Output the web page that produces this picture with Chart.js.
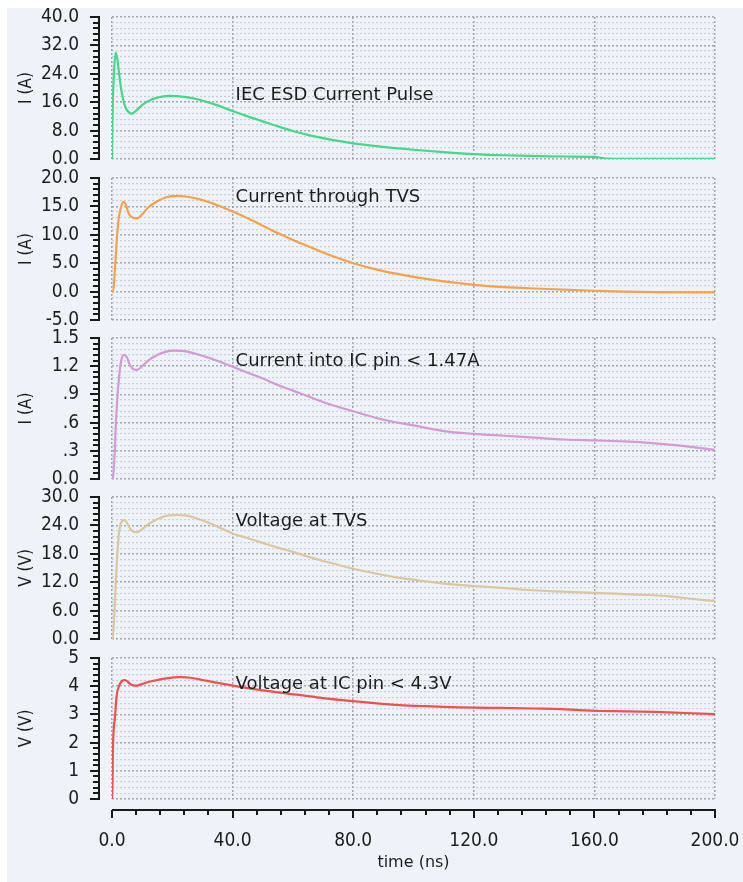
<!DOCTYPE html>
<html><head><meta charset="utf-8">
<script src="https://cdn.jsdelivr.net/npm/chart.js@4.4.1/dist/chart.umd.min.js"></script>
<style>
html,body{margin:0;padding:0;background:#fff;width:743px;height:882px;overflow:hidden;}
#bg{position:absolute;left:7px;top:8px;right:0;bottom:0;background:#eef2f9;}
canvas{position:absolute;left:0;}
</style></head><body><div id="bg"></div>
<script>
// ---------- data ----------
const timeTickLabels = ['0.0','40.0','80.0','120.0','160.0','200.0'];
const timeTitle = 'time (ns)';

const yLabelsIec = ['0.0','8.0','16.0','24.0','32.0','40.0'];
const yLabelsTvsI = ['-5.0','0.0','5.0','10.0','15.0','20.0'];
const yLabelsIcI = ['0.0','.3','.6','.9','1.2','1.5'];
const yLabelsTvsV = ['0.0','6.0','12.0','18.0','24.0','30.0'];
const yLabelsIcV = ['0','1','2','3','4','5'];

const yTitles = ['I (A)','I (A)','I (A)','V (V)','V (V)'];
const annotations = ['IEC ESD Current Pulse','Current through TVS','Current into IC pin < 1.47A','Voltage at TVS','Voltage at IC pin < 4.3V'];

const tIec = [0,0.1,0.3,0.7,1.2,1.8,2.5,3.5,4.5,5.5,6.5,8,10,12,15,19,24,29,35,40,45,50,55,60,65,70,75,80,90,100,110,120,130,140,150,160,164,170,180,190,200];
const iIec = [0,8,17,25,30,28,23,17.5,14.5,13.2,12.8,13.6,15.2,16.3,17.3,17.8,17.5,16.7,15.1,13.5,12.0,10.6,9.2,7.9,6.8,5.9,5.1,4.4,3.4,2.6,1.95,1.4,1.05,0.85,0.7,0.6,0.1,0.05,0.05,0.05,0.05];

const tTvsI = [0,0.4,0.9,1.5,2.1,2.8,3.8,4.6,5.5,6.5,8.2,10,12,15,18,21.4,25,30,35,40,45,50,55,60,65,70,75,80,90,100,110,120,130,140,150,160,170,180,200];
const iTvs = [0,0,3.3,8.5,12.3,14.5,15.8,15.3,13.8,13.1,12.9,13.6,14.8,15.9,16.6,16.85,16.7,16.1,15.2,14.1,12.9,11.6,10.3,9.1,8.0,6.9,5.9,5.0,3.6,2.6,1.8,1.2,0.8,0.55,0.35,0.15,0.0,-0.1,-0.15];

const tIcI = [0,0.2,0.9,1.3,1.8,2.4,3,4,5,6,7,8.2,10,12,15,18,20.3,24,28,33,40,45,50,55,60,65,70,80,90,100,110,120,130,140,150,160,170,180,190,200];
const iIc = [0,0,0.28,0.6,0.875,1.1,1.25,1.32,1.29,1.21,1.17,1.16,1.2,1.26,1.32,1.355,1.365,1.36,1.33,1.28,1.195,1.13,1.07,1.0,0.94,0.88,0.82,0.72,0.63,0.57,0.51,0.48,0.46,0.44,0.42,0.41,0.40,0.38,0.35,0.31];

const tTvsV = [0,0.2,0.9,1.3,2.1,2.6,3.2,4,5,6,7,8.2,10,12,15,18.7,22,24.2,28,33,40,45,50,55,60,65,70,79,87,95.5,104,112,120,129,137,145,153,162,170,178,185,192,200];
const vTvs = [0,0,6.8,12.5,20.9,23.7,24.8,25.1,24.5,23.3,22.7,22.5,23.2,24.2,25.3,26.1,26.2,26.1,25.5,24.3,22.3,21.3,20.3,19.3,18.4,17.4,16.5,15.0,13.9,12.9,12.2,11.6,11.2,10.8,10.4,10.1,9.9,9.7,9.5,9.3,9.0,8.5,8.0];

const tIcV = [0,0.15,0.3,1.0,1.5,2.3,3,4,5,6,7,8.2,10,12,15,18,22.5,26,30,35,40.2,50,62,70,79,87,95.5,104,112,120,129,140,149,155,162,170,180,190,200];
const vIc = [0,0.5,1.74,2.92,3.63,4.0,4.15,4.22,4.18,4.08,4.03,4.02,4.08,4.15,4.22,4.28,4.32,4.3,4.22,4.12,4.02,3.85,3.69,3.58,3.48,3.4,3.33,3.29,3.26,3.24,3.23,3.21,3.19,3.15,3.12,3.11,3.09,3.05,3.01];

// ---------- panels ----------
const panels = [
  {t:tIec, v:iIec, labels:yLabelsIec, color:'#46d68c', ann:[41,18.0]},
  {t:tTvsI, v:iTvs, labels:yLabelsTvsI, color:'#f7a24b', ann:[41,16.65]},
  {t:tIcI, v:iIc, labels:yLabelsIcI, color:'#d39ad3', ann:[41,1.255]},
  {t:tTvsV, v:vTvs, labels:yLabelsTvsV, color:'#dbc6a2', ann:[41,24.9]},
  {t:tIcV, v:vIc, labels:yLabelsIcV, color:'#f24f4f', ann:[41,4.08]}
];
const tops = [17,178,338,497,658];
const heights = [142,142,141,142,141];

const TEXT = '#1e1e1e';
const MAJOR = 'rgba(150,155,162,0.85)';
const MINOR = 'rgba(175,180,188,0.55)';
const CLEAR = 'rgba(0,0,0,0)';
const tickFont = {family:'"DejaVu Sans Condensed","DejaVu Sans"', size:19};

const axesPlugin = {
  id:'offsetAxes',
  afterDraw(chart, args, opts){
    const ctx = chart.ctx, ca = chart.chartArea, ys = chart.scales.y, xs = chart.scales.x;
    ctx.save();
    ctx.strokeStyle = '#1a1a1a';
    ctx.lineWidth = 2;
    const ax = ca.left - 13;
    ctx.beginPath(); ctx.moveTo(ax, ca.top - 1); ctx.lineTo(ax, ca.bottom + 1); ctx.stroke();
    ys.ticks.forEach((t,i)=>{
      const y = Math.round(ys.getPixelForValue(t.value));
      const len = (i % 5 === 0) ? 9 : 6;
      ctx.beginPath(); ctx.moveTo(ax - len, y); ctx.lineTo(ax, y); ctx.stroke();
    });
    if (opts.xAxis) {
      const ay = ca.bottom + 11;
      ctx.beginPath(); ctx.moveTo(ca.left, ay); ctx.lineTo(ca.right + 1, ay); ctx.stroke();
      const vals = timeTickLabels.map(parseFloat);
      const step = (vals[1] - vals[0]) / 5;
      for (let k = 0; k < vals.length; k++) {
        for (let m = 0; m < 5; m++) {
          if (k === vals.length - 1 && m > 0) break;
          const v = vals[k] + m * step;
          const x = Math.round(xs.getPixelForValue(v));
          const len = m === 0 ? 8 : 5;
          ctx.beginPath(); ctx.moveTo(x, ay); ctx.lineTo(x, ay + len); ctx.stroke();
        }
      }
    }
    // annotation
    ctx.fillStyle = TEXT;
    ctx.font = '18px "DejaVu Sans"';
    ctx.textBaseline = 'middle';
    ctx.textAlign = 'left';
    ctx.fillText(opts.text, xs.getPixelForValue(opts.ax), ys.getPixelForValue(opts.ay));
    ctx.restore();
  }
};

panels.forEach((p, idx) => {
  const last = idx === panels.length - 1;
  const padTop = 15;
  const canvasTop = tops[idx] - padTop;
  const padBottom = last ? 10 : 15;
  const xH = last ? 73 : 0;
  const h = last ? (882 - canvasTop) : heights[idx] + padTop + padBottom;
  const cv = document.createElement('canvas');
  cv.width = 743; cv.height = h;
  cv.style.width = '743px'; cv.style.height = h + 'px';
  cv.style.top = canvasTop + 'px';
  document.body.appendChild(cv);

  const majors = p.labels.map(parseFloat);
  const ticksVals = [];
  for (let k = 0; k < majors.length; k++) {
    ticksVals.push(majors[k]);
    if (k < majors.length - 1) {
      const st = (majors[k+1] - majors[k]) / 5;
      for (let m = 1; m < 5; m++) ticksVals.push(majors[k] + m * st);
    }
  }
  const xVals = timeTickLabels.map(parseFloat);

  new Chart(cv, {
    type:'line',
    data:{datasets:[{
      data: p.t.map((t,i)=>({x:t, y:p.v[i]})),
      borderColor: p.color, borderWidth: 2.2, pointRadius: 0,
      cubicInterpolationMode:'monotone', fill:false
    }]},
    options:{
      responsive:false, maintainAspectRatio:false, animation:false,
      devicePixelRatio:1,
      layout:{padding:{left:0, right:28, top:padTop, bottom:padBottom}},
      plugins:{legend:{display:false}, tooltip:{enabled:false},
        offsetAxes:{xAxis:last, text:annotations[idx], ax:p.ann[0], ay:p.ann[1]}},
      scales:{
        x:{type:'linear', min:xVals[0], max:xVals[xVals.length-1],
          afterBuildTicks: s => { s.ticks = xVals.map(v=>({value:v})); },
          ticks:{display:last, padding:0, font:tickFont, color:TEXT, autoSkip:false, maxRotation:0,
            callback:(v,i)=>timeTickLabels[i]},
          grid:{drawTicks:last, tickLength:31, tickColor:CLEAR, color:MAJOR, lineWidth:1.5},
          border:{display:false, dash:[2,2]},
          title:{display:last, text:timeTitle, color:TEXT, padding:0,
            font:{family:'"DejaVu Sans"', size:16}},
          afterFit: s => { s.height = xH; }
        },
        y:{type:'linear', min:majors[0], max:majors[majors.length-1],
          afterBuildTicks: s => { s.ticks = ticksVals.map(v=>({value:v})); },
          ticks:{padding:0, font:tickFont, color:TEXT, autoSkip:false,
            callback:(v,i)=> (i % 5 === 0) ? p.labels[i/5] : ''},
          grid:{drawTicks:true, tickLength:33, tickColor:CLEAR,
            color: c => (c.index % 5 === 0) ? MAJOR : MINOR,
            lineWidth: c => (c.index % 5 === 0) ? 1.5 : 1.2},
          border:{display:false, dash:[2,2]},
          title:{display:true, text:yTitles[idx], color:TEXT, padding:{top:16,bottom:0},
            font:{family:'"DejaVu Sans Condensed","DejaVu Sans"', size:17}},
          afterFit: s => { s.width = 112; }
        }
      }
    },
    plugins:[axesPlugin]
  });
});
</script>
</body></html>
